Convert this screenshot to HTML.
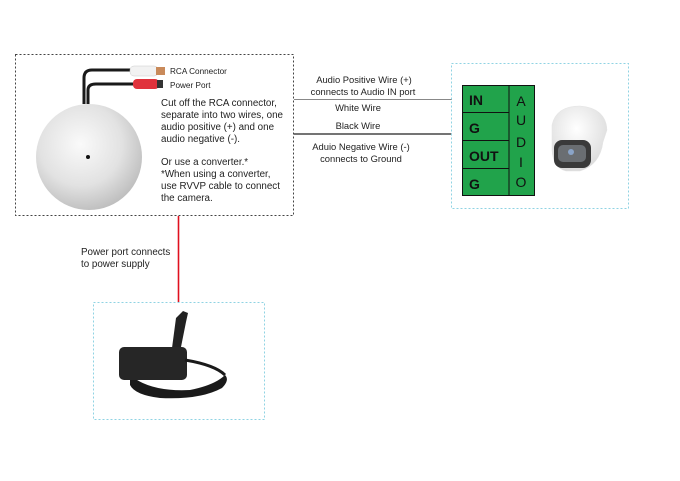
<!DOCTYPE html>
<html><head><meta charset="utf-8"><style>
html,body{margin:0;padding:0;background:#fff;}
svg{display:block;font-family:"Liberation Sans",sans-serif;}
</style></head><body>
<svg width="680" height="481" viewBox="0 0 680 481" xmlns="http://www.w3.org/2000/svg">
<defs>
<radialGradient id="ball" cx="0.42" cy="0.38" r="0.65">
<stop offset="0" stop-color="#fafafa"/><stop offset="0.6" stop-color="#e2e2e2"/><stop offset="1" stop-color="#bdbdbd"/>
</radialGradient>
<radialGradient id="cam" cx="0.45" cy="0.35" r="0.7">
<stop offset="0" stop-color="#ffffff"/><stop offset="1" stop-color="#d8d8d8"/>
</radialGradient>
</defs>
<rect x="15.5" y="54.5" width="278" height="161" fill="none" stroke="#444" stroke-width="1" stroke-dasharray="2,2"/>
<path d="M84 104 V78 Q84 70 92 70 H132" fill="none" stroke="#1a1a1a" stroke-width="3"/>
<path d="M88 104 V90 Q88 84 96 84 H136" fill="none" stroke="#1a1a1a" stroke-width="3"/>
<rect x="130" y="66" width="28" height="10" rx="4" fill="#f2f2f2" stroke="#ccc" stroke-width="0.5"/>
<rect x="156" y="67" width="9" height="8" fill="#c98a5a"/>
<rect x="133" y="79" width="26" height="10" rx="4" fill="#e0323c"/>
<rect x="157" y="80" width="6" height="8" fill="#333"/>
<circle cx="89" cy="157" r="53" fill="url(#ball)"/>
<circle cx="88" cy="157" r="2" fill="#111"/>
<g font-size="8.2" fill="#222">
<text x="170" y="74">RCA Connector</text>
<text x="170" y="88">Power Port</text>
</g>
<g font-size="9.8" fill="#222">
<text x="161" y="106">Cut off the RCA connector,</text>
<text x="161" y="118">separate into two wires, one</text>
<text x="161" y="130">audio positive (+) and one</text>
<text x="161" y="142">audio negative (-).</text>
<text x="161" y="165">Or use a converter.*</text>
<text x="161" y="177">*When using a converter,</text>
<text x="161" y="189">use RVVP cable to connect</text>
<text x="161" y="201">the camera.</text>
</g>
<line x1="294" y1="99.5" x2="452" y2="99.5" stroke="#888" stroke-width="1"/>
<line x1="294" y1="134" x2="452" y2="134" stroke="#222" stroke-width="1.3"/>
<g font-size="9.4" fill="#222" text-anchor="middle">
<text x="364" y="83">Audio Positive Wire (+)</text>
<text x="363" y="95">connects to Audio IN port</text>
<text x="358" y="111">White Wire</text>
<text x="358" y="129">Black Wire</text>
<text x="361" y="150">Aduio Negative Wire (-)</text>
<text x="361" y="162">connects to Ground</text>
</g>
<rect x="451.5" y="63.5" width="177" height="145" fill="none" stroke="#8fd3e3" stroke-width="1" stroke-dasharray="2,2"/>
<rect x="462.5" y="85.5" width="72" height="110" fill="#21a34b" stroke="#111" stroke-width="1"/>
<line x1="509" y1="85" x2="509" y2="195" stroke="#111"/>
<line x1="462" y1="112.5" x2="509" y2="112.5" stroke="#111"/>
<line x1="462" y1="140.5" x2="509" y2="140.5" stroke="#111"/>
<line x1="462" y1="168.5" x2="509" y2="168.5" stroke="#111"/>
<g font-size="14" font-weight="bold" fill="#111">
<text x="469" y="105">IN</text>
<text x="469" y="133">G</text>
<text x="469" y="161">OUT</text>
<text x="469" y="189">G</text>
</g>
<g font-size="14" fill="#111" text-anchor="middle">
<text x="521" y="106">A</text>
<text x="521" y="125">U</text>
<text x="521" y="147">D</text>
<text x="521" y="167">I</text>
<text x="521" y="187">O</text>
</g>
<path d="M552 125 Q556 106 580 106 Q606 108 607 130 L603 142 Q600 165 580 171 H566 Q553 168 552 150 Z" fill="url(#cam)" stroke="#e4e4e4" stroke-width="0.5"/>
<rect x="554" y="140" width="37" height="28" rx="8" fill="#3a3a3a"/>
<rect x="558" y="145" width="28" height="17" rx="5" fill="#6a6e72"/>
<circle cx="571" cy="152" r="3" fill="#8aa4c8"/>
<line x1="178.5" y1="216" x2="178.5" y2="302" stroke="#e0101e" stroke-width="1.6"/>
<g font-size="9.8" fill="#222">
<text x="81" y="255">Power port connects</text>
<text x="81" y="267">to power supply</text>
</g>
<rect x="93.5" y="302.5" width="171" height="117" fill="none" stroke="#8fd3e3" stroke-width="1" stroke-dasharray="2,2"/>
<path d="M130 375 Q150 392 190 390 Q215 385 225 375 Q230 380 222 388 Q200 400 160 398 Q135 395 130 385 Z" fill="#1a1a1a"/>
<path d="M172 348 L176 318 L183 311 L188 313 L186 322 L180 352 Z" fill="#222"/>
<rect x="119" y="347" width="68" height="33" rx="5" fill="#262626"/>
<path d="M185 360 Q215 365 225 375" fill="none" stroke="#1a1a1a" stroke-width="3"/>
</svg>
</body></html>
